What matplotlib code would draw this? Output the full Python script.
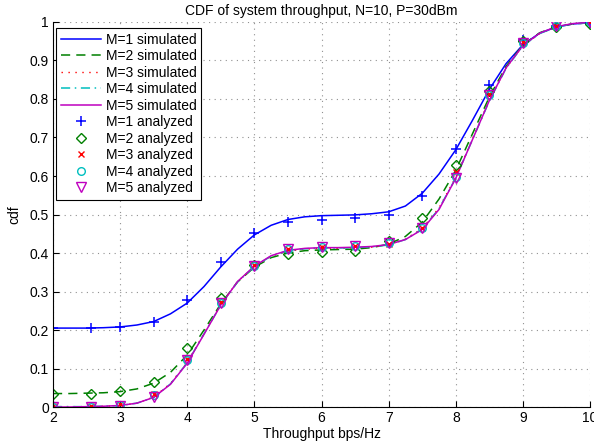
import matplotlib
matplotlib.use("Agg")
import matplotlib.pyplot as plt

# simulated curves at 0.25 steps
x_sim = [2.0, 2.25, 2.5, 2.75, 3.0, 3.25, 3.5, 3.75, 4.0, 4.25, 4.5, 4.75,
         5.0, 5.25, 5.5, 5.75, 6.0, 6.25, 6.5, 6.75, 7.0, 7.25, 7.5, 7.75,
         8.0, 8.25, 8.5, 8.75, 9.0, 9.25, 9.5, 9.75, 10.0]
sim_m1 = [0.205, 0.205, 0.205, 0.206, 0.208, 0.213, 0.222, 0.242, 0.270, 0.313,
          0.364, 0.410, 0.447, 0.472, 0.487, 0.494, 0.497, 0.498, 0.499, 0.502,
          0.507, 0.522, 0.555, 0.605, 0.668, 0.745, 0.825, 0.892, 0.941, 0.971,
          0.987, 0.995, 0.998]
sim_m2 = [0.035, 0.035, 0.036, 0.037, 0.040, 0.047, 0.062, 0.090, 0.135, 0.200,
          0.268, 0.325, 0.363, 0.388, 0.400, 0.406, 0.408, 0.409, 0.410, 0.414,
          0.423, 0.443, 0.480, 0.540, 0.615, 0.710, 0.805, 0.885, 0.940, 0.972,
          0.988, 0.995, 0.998]
sim_m3 = [0.001, 0.001, 0.001, 0.002, 0.004, 0.010, 0.026, 0.061, 0.116, 0.191,
          0.266, 0.326, 0.365, 0.391, 0.405, 0.410, 0.412, 0.412, 0.413, 0.415,
          0.421, 0.436, 0.464, 0.517, 0.597, 0.697, 0.797, 0.881, 0.938, 0.970,
          0.987, 0.995, 0.998]
sim_m4 = [0.001, 0.001, 0.001, 0.002, 0.004, 0.010, 0.025, 0.060, 0.115, 0.190,
          0.265, 0.325, 0.365, 0.392, 0.406, 0.411, 0.413, 0.413, 0.414, 0.416,
          0.421, 0.435, 0.462, 0.515, 0.595, 0.695, 0.795, 0.880, 0.938, 0.970,
          0.987, 0.995, 0.998]
sim_m5 = [0.000, 0.000, 0.001, 0.002, 0.004, 0.010, 0.025, 0.059, 0.114, 0.189,
          0.265, 0.326, 0.366, 0.393, 0.407, 0.412, 0.414, 0.414, 0.415, 0.417,
          0.422, 0.435, 0.461, 0.513, 0.594, 0.695, 0.796, 0.881, 0.939, 0.971,
          0.988, 0.996, 0.999]

# analytical points
x_ana = [2.0, 2.57, 3.0, 3.5, 4.0, 4.5, 5.0, 5.5, 6.0, 6.5, 7.0, 7.5, 8.0,
         8.5, 9.0, 9.5, 10.0]
ana_m1 = [0.205, 0.205, 0.208, 0.220, 0.278, 0.377, 0.451, 0.481, 0.487, 0.490,
          0.500, 0.549, 0.669, 0.836, 0.952, 0.990, 0.998]
ana_m2 = [0.035, 0.035, 0.042, 0.066, 0.154, 0.282, 0.370, 0.398, 0.403, 0.406,
          0.430, 0.490, 0.629, 0.822, 0.950, 0.988, 0.995]
ana_m3 = [0.002, 0.002, 0.008, 0.035, 0.125, 0.272, 0.368, 0.410, 0.415, 0.418,
          0.424, 0.466, 0.610, 0.812, 0.948, 0.990, 0.999]
ana_m4 = [0.001, 0.001, 0.004, 0.030, 0.122, 0.270, 0.366, 0.410, 0.416, 0.419,
          0.425, 0.464, 0.598, 0.810, 0.946, 0.990, 0.999]
ana_m5 = [0.000, 0.000, 0.003, 0.027, 0.122, 0.270, 0.367, 0.410, 0.416, 0.419,
          0.425, 0.464, 0.594, 0.810, 0.945, 0.990, 1.000]

x_ticks = [2, 3, 4, 5, 6, 7, 8, 9, 10]
y_ticks = [0, 0.1, 0.2, 0.3, 0.4, 0.5, 0.6, 0.7, 0.8, 0.9, 1]
y_tick_labels = ["0", "0.1", "0.2", "0.3", "0.4", "0.5", "0.6", "0.7", "0.8", "0.9", "1"]


def main() -> None:
    plt.rcParams["font.family"] = ["Liberation Sans", "DejaVu Sans"]
    plt.rcParams["font.size"] = 10

    fig = plt.figure(figsize=(5.94, 4.46), dpi=100)
    ax = fig.add_axes([0.0892, 0.0874, 0.9041, 0.8633])

    ax.plot(x_sim, sim_m1, color="#0000ff", lw=1.1, ls="-", label="M=1 simulated")
    ax.plot(x_sim, sim_m2, color="#008000", lw=1.1, ls=(0, (6, 4)), label="M=2 simulated")
    ax.plot(x_sim, sim_m3, color="#ff0000", lw=1.0, ls=(0, (1, 4)), label="M=3 simulated")
    ax.plot(x_sim, sim_m4, color="#00bfbf", lw=1.1, ls=(0, (6, 3, 1, 3)), label="M=4 simulated")
    ax.plot(x_sim, sim_m5, color="#bf00bf", lw=1.1, ls="-", label="M=5 simulated")

    ax.plot(x_ana, ana_m1, ls="none", marker="+", ms=7, mew=1.1, color="#0000ff",
            label="M=1 analyzed")
    ax.plot(x_ana, ana_m2, ls="none", marker="D", ms=5, mew=1.0, mfc="none",
            color="#008000", label="M=2 analyzed")
    ax.plot(x_ana, ana_m3, ls="none", marker="x", ms=4.5, mew=1.0, color="#ff0000",
            label="M=3 analyzed")
    ax.plot(x_ana, ana_m4, ls="none", marker="o", ms=5.5, mew=1.0, mfc="none",
            color="#00bfbf", label="M=4 analyzed")
    ax.plot(x_ana, ana_m5, ls="none", marker="v", ms=6.5, mew=1.0, mfc="none",
            color="#bf00bf", label="M=5 analyzed")

    ax.set_xlim(2, 10)
    ax.set_ylim(0, 1)
    ax.set_xticks(x_ticks)
    ax.set_yticks(y_ticks)
    ax.set_yticklabels(y_tick_labels)
    ax.tick_params(direction="in", length=4, width=0.8, pad=3)
    ax.grid(True, ls=(0, (1, 4)), color="#909090", lw=0.8)
    ax.spines["top"].set_visible(False)
    ax.spines["right"].set_visible(False)

    ax.set_title("CDF of system throughput, N=10, P=30dBm", fontsize=10, pad=5)
    ax.set_xlabel("Throughput bps/Hz", labelpad=1)
    ax.set_ylabel("cdf", labelpad=6)

    leg = ax.legend(loc="upper left", bbox_to_anchor=(0.006, 0.985), frameon=True,
                    fancybox=False, edgecolor="black", framealpha=1,
                    handlelength=2.9, handletextpad=0.3, labelspacing=0.18,
                    borderpad=0.35, borderaxespad=0)
    leg.get_frame().set_linewidth(0.8)

    fig.savefig("out.png", dpi=100)


if __name__ == "__main__":
    main()
